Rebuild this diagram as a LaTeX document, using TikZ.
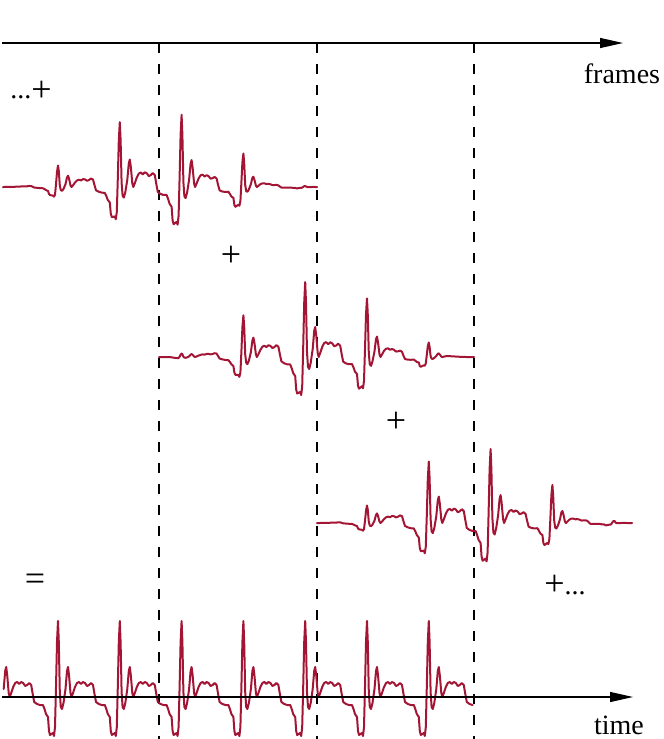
\documentclass[tikz,border=0pt]{standalone}
\usepackage{fontspec}
\setmainfont{Liberation Serif}
\usetikzlibrary{arrows.meta}
\definecolor{sigred}{RGB}{163,21,52}

\newcommand\beatpts{-21/-7,-18/-8,-15/-8,-13.5/-12,-12/-17,-10/-20,-9/-34,-8/-38,-5/-36,-4/-39,-3/-30,-2/10,-1/55,0/76,0.8/55,1.8/5,2.8/-10,4/-12,5.5/-6,7.5/8,9/26,10/30,11/22,12.5/4,13.5/0,15/4,17/10,19/14,21/15,23/13,25/15,27/14,29/11,31/12,33/14,35/12,36.5/3,38/-5}

% #1 xmin, #2 xmax, #3 window centre, #4 baseline, #5 windowed (1) or not (0)
\newcommand\mksig[5]{%
  \gdef\sigpts{}%
  \foreach \k in {-1,...,10}{%
    \foreach \d/\v in \beatpts {%
      \pgfmathsetmacro\xx{58+61.8*\k+\d}%
      \pgfmathtruncatemacro\inr{((\xx>#1)&&(\xx<#2))?1:0}%
      \ifnum\inr=1
        \ifnum#5=1
          \pgfmathsetmacro\cc{cos((\xx-#3)*0.57325)}%
          \pgfmathsetmacro\ww{\cc*\cc}%
        \else
          \def\ww{1}%
        \fi
        \pgfmathsetmacro\yy{#4-\ww*(\v)}%
        \xdef\sigpts{\sigpts(\xx,\yy)}%
      \fi
    }%
  }%
}
\newcommand\bigop[2]{\raisebox{#1}{\fontsize{36}{40}\selectfont #2}}

\begin{document}
\begin{tikzpicture}[x=1pt,y=-1pt,
  axisline/.style={line width=1.2pt,-{Triangle[length=23pt,width=10pt]}},
  framesep/.style={line width=1.1pt,dash pattern=on 10pt off 11pt},
  sigline/.style={sigred,line width=2pt,line join=round,line cap=round},
  lbl/.style={inner sep=0pt,anchor=base,font=\fontsize{28}{32}\selectfont},
  oplbl/.style={inner sep=0pt,anchor=center,font=\fontsize{36}{40}\selectfont}]
\useasboundingbox (0,0) rectangle (664,739);

% frame separators
\foreach \n/\x in {a/159,b/317,c/474}{
  \coordinate (\n top) at (\x,43);
  \coordinate (\n bot) at (\x,739);
  \draw[framesep] (\n top) -- (\n bot);
}

% top axis
\coordinate (f0) at (2,43);
\coordinate (f1) at (623,43);
\draw[axisline] (f0) -- (f1);
\node[lbl] (frames) at (622,83) {frames};

% windowed frames
\mksig{3}{317}{159}{187}{1}
\edef\tmp{\noexpand\draw[sigline] (3,187) -- plot coordinates {\sigpts} -- (317,187);}\tmp
\mksig{159}{474}{317}{357}{1}
\edef\tmp{\noexpand\draw[sigline] (159,357) -- plot coordinates {\sigpts} -- (474,357);}\tmp
\mksig{317}{632}{474}{523}{1}
\edef\tmp{\noexpand\draw[sigline] (317,523) -- plot coordinates {\sigpts} -- (632,523);}\tmp

% sum signal
\mksig{3}{474}{0}{697}{0}
\edef\tmp{\noexpand\draw[sigline] plot coordinates {\sigpts};}\tmp

% time axis
\coordinate (t0) at (2,697);
\coordinate (t1) at (633,697);
\draw[axisline] (t0) -- (t1);
\node[lbl] (time) at (619,734) {time};

% operators
\node[lbl] (p0) at (31,98) {...\bigop{-3pt}{+}};
\node[oplbl] (p1) at (231,256) {+};
\node[oplbl] (p2) at (396,422) {+};
\node[oplbl] (eq) at (35,582) {=};
\node[lbl] (p3) at (565,594) {\bigop{-1pt}{+}...};
\end{tikzpicture}
\end{document}
